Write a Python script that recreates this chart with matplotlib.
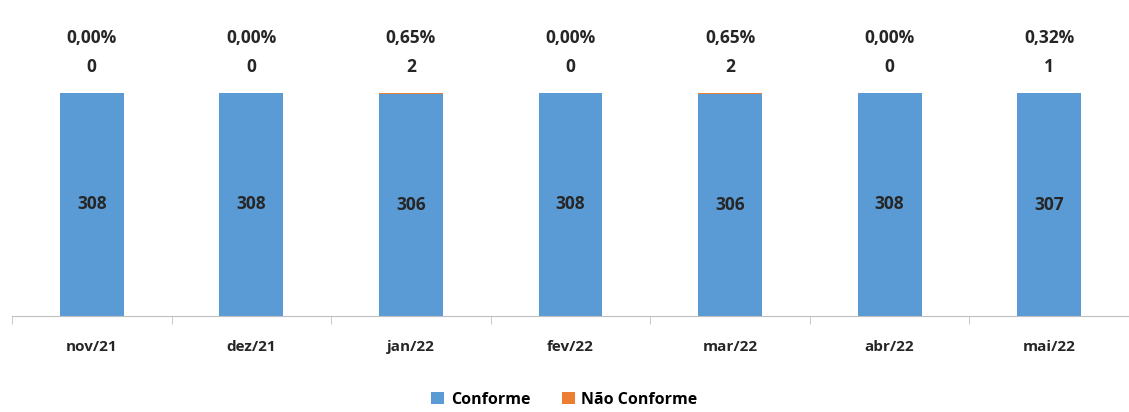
import numpy as np
import matplotlib.pyplot as plt

meses = ['nov/21', 'dez/21', 'jan/22', 'fev/22', 'mar/22', 'abr/22', 'mai/22']
conforme = [308, 308, 306, 308, 306, 308, 307]
nao_conforme = [0, 0, 2, 0, 2, 0, 1]

azul = '#5B9BD5'
laranja = '#ED7D31'
texto = '#262626'

plt.rcParams['font.family'] = ['Open Sans', 'DejaVu Sans']
plt.rcParams['font.weight'] = 'bold'

fig = plt.figure(figsize=(11.29, 4.12), dpi=100)
ax = fig.add_axes([12 / 1129, 96 / 412, 1117 / 1129, 290 / 412])

x = np.arange(len(meses))
ax.bar(x, conforme, width=0.4, color=azul, label='Conforme')
ax.bar(x, nao_conforme, width=0.4, bottom=conforme, color=laranja, label='Não Conforme')

total = np.array(conforme) + np.array(nao_conforme)
for i in range(len(meses)):
    ax.text(x[i], conforme[i] / 2, str(conforme[i]), ha='center', va='center',
            fontsize=12.5, fontweight='bold', color=texto)
    pct = nao_conforme[i] / total[i] * 100
    ax.text(x[i], total[i] + 36, str(nao_conforme[i]), ha='center', va='center',
            fontsize=12.5, fontweight='bold', color=texto)
    ax.text(x[i], total[i] + 76, ('%.2f%%' % pct).replace('.', ','), ha='center',
            va='center', fontsize=12.5, fontweight='bold', color=texto)

ax.set_xlim(-0.5, len(meses) - 0.5)
ax.set_ylim(0, 400)
ax.set_yticks([])
for s in ['top', 'right', 'left']:
    ax.spines[s].set_visible(False)
ax.spines['bottom'].set_color('#BFBFBF')
ax.set_xticks(x)
ax.set_xticklabels(meses, fontsize=11, fontweight='bold', color=texto)
ax.tick_params(axis='x', length=0, pad=17)
ax.set_xticks(np.arange(-0.5, len(meses)), minor=True)
ax.tick_params(axis='x', which='minor', length=6, color='#BFBFBF')

fig.legend(loc='lower center', bbox_to_anchor=(0.5, -0.025), ncol=2, frameon=False,
           handlelength=0.8, handleheight=0.8, columnspacing=2.0,
           handletextpad=0.4, prop={'weight': 'bold', 'size': 11.5})

fig.savefig('out.png', dpi=100)
